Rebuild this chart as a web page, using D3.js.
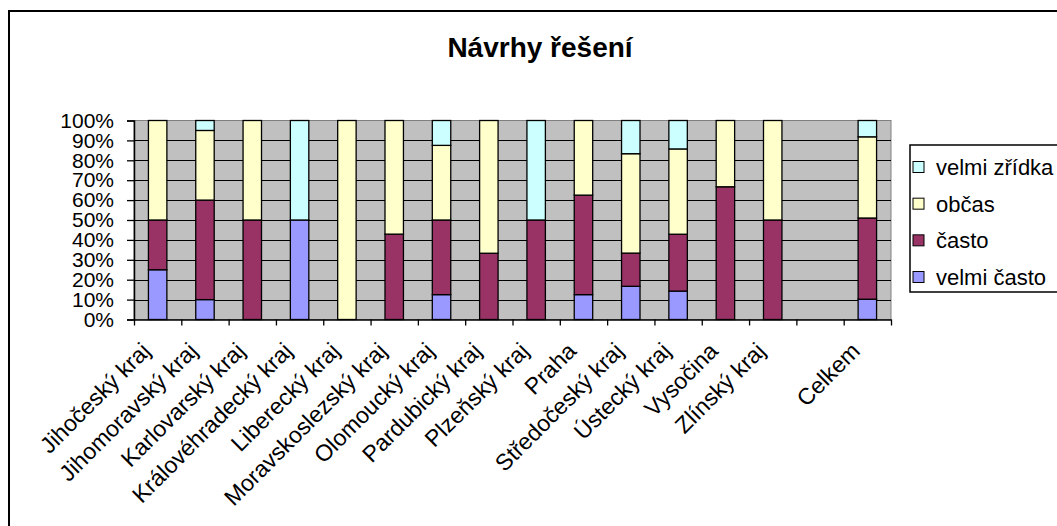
<!DOCTYPE html>
<html>
<head>
<meta charset="utf-8">
<script src="https://cdn.jsdelivr.net/npm/d3@7"></script>
<style>
  html, body { margin: 0; padding: 0; background: #fff; }
  svg { display: block; font-family: "Liberation Sans", Arial, sans-serif; }
</style>
</head>
<body>
<svg id="chart" width="1057" height="526"></svg>
<script>
const title = "Návrhy řešení";
const categories = ["Jihočeský kraj", "Jihomoravský kraj", "Karlovarský kraj", "Královéhradecký kraj",
  "Liberecký kraj", "Moravskoslezský kraj", "Olomoucký kraj", "Pardubický kraj", "Plzeňský kraj",
  "Praha", "Středočeský kraj", "Ústecký kraj", "Vysočina", "Zlínský kraj", "", "Celkem"];
const seriesNames = ["velmi často", "často", "občas", "velmi zřídka"];
const velmiCasto  = [25, 10, 0, 50, 0, 0, 12.5, 0, 0, 12.5, 16.7, 14.3, 0, 0, 0, 10.2];
const casto       = [25, 50, 50, 0, 0, 42.9, 37.5, 33.3, 50, 50, 16.7, 28.6, 66.7, 50, 0, 40.8];
const obcas       = [50, 35, 50, 0, 100, 57.1, 37.5, 66.7, 0, 37.5, 50, 42.9, 33.3, 50, 0, 40.8];
const velmiZridka = [0, 5, 0, 50, 0, 0, 12.5, 0, 50, 0, 16.7, 14.3, 0, 0, 0, 8.2];
const yTicks = [0, 0.1, 0.2, 0.3, 0.4, 0.5, 0.6, 0.7, 0.8, 0.9, 1];
const colors = ["#9999FF", "#993366", "#FFFFCC", "#CCFFFF"];

const svg = d3.select("#chart");
const font = '"Liberation Sans", Arial, sans-serif';

// outer frame
svg.append("rect").attr("x", 9).attr("y", 11).attr("width", 1060).attr("height", 530)
  .attr("fill", "#fff").attr("stroke", "#000").attr("stroke-width", 2);

// title
svg.append("text").attr("x", 540).attr("y", 57).attr("text-anchor", "middle")
  .attr("font-size", 28).attr("font-weight", "bold").attr("fill", "#000").text(title);

const plot = { left: 134, right: 891, top: 120.5, bottom: 319.5 };

const table = categories.map((c, i) => ({
  cat: c,
  "velmi často": velmiCasto[i], "často": casto[i], "občas": obcas[i], "velmi zřídka": velmiZridka[i]
}));
const stack = d3.stack().keys(seriesNames).offset(d3.stackOffsetExpand);
const stacked = stack(table);

const x = d3.scaleBand().domain(categories).range([plot.left, plot.right])
  .paddingInner(0.61).paddingOuter(0.305);
const xIdx = d3.scaleLinear().domain([0, categories.length]).range([plot.left, plot.right]);
const y = d3.scaleLinear().domain([0, 1]).range([plot.bottom, plot.top]);

// plot background
svg.append("rect").attr("x", plot.left).attr("y", plot.top)
  .attr("width", plot.right - plot.left).attr("height", plot.bottom - plot.top)
  .attr("fill", "#C0C0C0").attr("stroke", "#808080").attr("stroke-width", 1);

// gridlines
svg.append("g").selectAll("line").data(yTicks.filter(d => d > 0 && d < 1)).join("line")
  .attr("x1", plot.left).attr("x2", plot.right)
  .attr("y1", d => Math.round(y(d)) + 0.5).attr("y2", d => Math.round(y(d)) + 0.5)
  .attr("stroke", "#000").attr("stroke-width", 1);

// bars
const groups = svg.append("g").selectAll("g").data(stacked).join("g")
  .attr("fill", (d, i) => colors[i]);
groups.selectAll("rect").data(d => d.filter(s => s[1] - s[0] > 0)).join("rect")
  .attr("x", d => x(d.data.cat))
  .attr("width", x.bandwidth())
  .attr("y", d => y(d[1]))
  .attr("height", d => y(d[0]) - y(d[1]))
  .attr("stroke", "#000").attr("stroke-width", 1.3);

// y axis
const yAxis = svg.append("g").attr("transform", `translate(${plot.left},0)`)
  .call(d3.axisLeft(y).tickValues(yTicks).tickFormat(d3.format(".0%")).tickSize(7).tickPadding(13));
yAxis.select(".domain").attr("stroke", "#000").attr("stroke-width", 1.5);
yAxis.selectAll(".tick line").attr("stroke", "#000").attr("stroke-width", 1.3);
yAxis.selectAll("text").attr("font-size", 21).attr("font-family", font).attr("fill", "#000");

// x axis ticks at category boundaries
const xTickAxis = svg.append("g").attr("transform", `translate(0,${plot.bottom})`)
  .call(d3.axisBottom(xIdx).tickValues(d3.range(0, categories.length + 1)).tickFormat("").tickSize(6).tickSizeOuter(0));
xTickAxis.select(".domain").attr("stroke", "#000").attr("stroke-width", 1.5);
xTickAxis.selectAll(".tick line").attr("stroke", "#000").attr("stroke-width", 1.3);

// x labels
const xAxis = svg.append("g").attr("transform", `translate(0,${plot.bottom})`)
  .call(d3.axisBottom(x).tickSize(0).tickFormat(d => d));
xAxis.select(".domain").remove();
xAxis.selectAll("text")
  .attr("font-size", 23).attr("font-family", font).attr("fill", "#000")
  .attr("text-anchor", "end")
  .attr("x", 0).attr("y", 0).attr("dy", 0)
  .attr("transform", "translate(-6,33) rotate(-45)");

// legend
const lg = svg.append("g");
lg.append("rect").attr("x", 910).attr("y", 145).attr("width", 170).attr("height", 147)
  .attr("fill", "#fff").attr("stroke", "#000").attr("stroke-width", 1.5);
const legendOrder = [3, 2, 1, 0];
const ly = d3.scalePoint().domain(legendOrder).range([167, 277]);
const items = lg.selectAll("g.item").data(legendOrder).join("g").attr("class", "item")
  .attr("transform", d => `translate(0,${ly(d)})`);
items.append("rect").attr("x", 913).attr("y", -5.5).attr("width", 11).attr("height", 11)
  .attr("fill", d => colors[d]).attr("stroke", "#000").attr("stroke-width", 1);
items.append("text").attr("x", 936).attr("y", 0).attr("dy", "0.36em")
  .attr("font-size", 22).attr("fill", "#000").text(d => seriesNames[d]);
</script>
</body>
</html>
